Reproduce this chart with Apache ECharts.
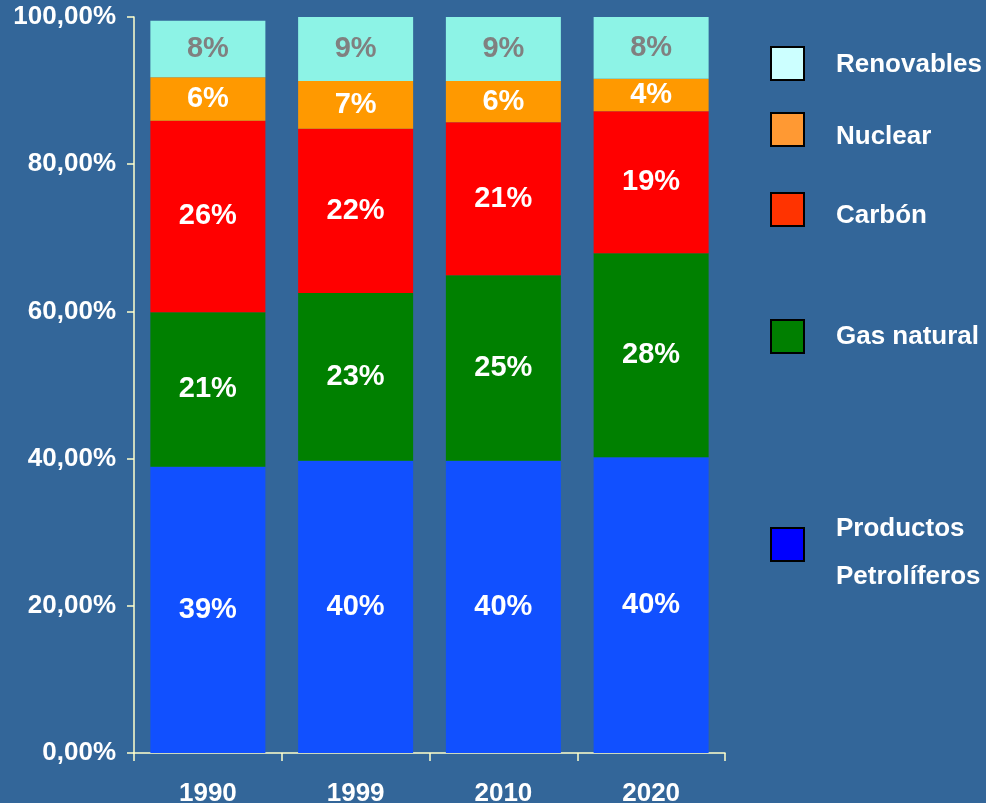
<!DOCTYPE html>
<html>
<head>
<meta charset="utf-8">
<script src="https://cdn.jsdelivr.net/npm/echarts@6/dist/echarts.min.js"></script>
<style>
  html, body { margin: 0; padding: 0; background: #336699; }
  #chart { width: 986px; height: 803px; }
</style>
</head>
<body>
<div id="chart"></div>
<script>
// años
const years = ['1990', '1999', '2010', '2020']
// porcentajes por fuente (de abajo hacia arriba)
const petroleo = [38.9, 39.7, 39.7, 40.2]
const gas = [21.0, 22.8, 25.2, 27.7]
const carbon = [26.0, 22.3, 20.8, 19.3]
const nuclear = [5.9, 6.5, 5.6, 4.4]
const renovables = [7.7, 8.7, 8.7, 8.4]
const yTicks = [0, 20, 40, 60, 80, 100]

const font = '"Liberation Sans", Arial, sans-serif'
const axisColor = '#ffffcc'

let chart = echarts.init(document.getElementById('chart'))

const makeSeries = (name, data, color, labelColor) => {
  return {
    name: name,
    type: 'bar',
    stack: 'total',
    barWidth: 115,
    data: data,
    itemStyle: { color: color },
    label: {
      show: true,
      position: 'inside',
      color: labelColor,
      fontFamily: font,
      fontWeight: 'bold',
      fontSize: 29,
      formatter: (p) => Math.round(p.value) + '%'
    }
  }
}

// cuadros de la leyenda (sin texto)
const iconLegend = (name, top, color) => {
  return {
    left: 770,
    top: top,
    padding: 0,
    itemWidth: 33,
    itemHeight: 33,
    icon: 'rect',
    selectedMode: false,
    formatter: () => '',
    data: [{ name: name, itemStyle: { color: color, borderColor: '#000', borderWidth: 2 } }],
    textStyle: { fontSize: 12 }
  }
}

// textos de la leyenda, algo más bajos que los cuadros
const textLegend = (name, top) => {
  return {
    left: 830,
    top: top,
    padding: 0,
    itemWidth: 1,
    itemHeight: 1,
    icon: 'rect',
    selectedMode: false,
    formatter: (n) => n.replace(' Petrolíferos', '\nPetrolíferos'),
    data: [{ name: name, itemStyle: { color: 'rgba(0,0,0,0)', borderWidth: 0 } }],
    textStyle: {
      color: '#fff',
      fontFamily: font,
      fontWeight: 'bold',
      fontSize: 26,
      lineHeight: name === 'Productos Petrolíferos' ? 48 : 32
    }
  }
}

chart.setOption({
  backgroundColor: '#336699',
  animation: false,
  grid: { left: 134, right: 261, top: 17, bottom: 50, containLabel: false, outerBoundsMode: 'none' },
  legend: [
    iconLegend('Renovables', 46, '#ccffff'),
    iconLegend('Nuclear', 112, '#ff9933'),
    iconLegend('Carbón', 192, '#ff3300'),
    iconLegend('Gas natural', 319, '#007f00'),
    iconLegend('Productos Petrolíferos', 527, '#0000ff'),
    textLegend('Renovables', 49),
    textLegend('Nuclear', 121),
    textLegend('Carbón', 200),
    textLegend('Gas natural', 321),
    textLegend('Productos Petrolíferos', 505)
  ],
  xAxis: {
    type: 'category',
    data: years,
    axisLine: { lineStyle: { color: axisColor, width: 1.5 } },
    axisTick: { show: true, length: 8, lineStyle: { color: axisColor, width: 1.5 } },
    axisLabel: {
      color: '#fff',
      fontFamily: font,
      fontWeight: 'bold',
      fontSize: 26,
      margin: 28
    }
  },
  yAxis: {
    type: 'value',
    min: yTicks[0],
    max: yTicks[yTicks.length - 1],
    interval: 20,
    splitLine: { show: false },
    axisLine: { show: true, lineStyle: { color: axisColor, width: 1.5 } },
    axisTick: { show: true, length: 7, lineStyle: { color: axisColor, width: 1.5 } },
    axisLabel: {
      color: '#fff',
      fontFamily: font,
      fontWeight: 'bold',
      fontSize: 26,
      margin: 18,
      formatter: (v) => v.toFixed(2).replace('.', ',') + '%'
    }
  },
  series: [
    makeSeries('Productos Petrolíferos', petroleo, '#1150ff', '#fff'),
    makeSeries('Gas natural', gas, '#008000', '#fff'),
    makeSeries('Carbón', carbon, '#ff0000', '#fff'),
    makeSeries('Nuclear', nuclear, '#ff9900', '#fff'),
    makeSeries('Renovables', renovables, '#8df3e6', '#808080')
  ]
})
</script>
</body>
</html>
